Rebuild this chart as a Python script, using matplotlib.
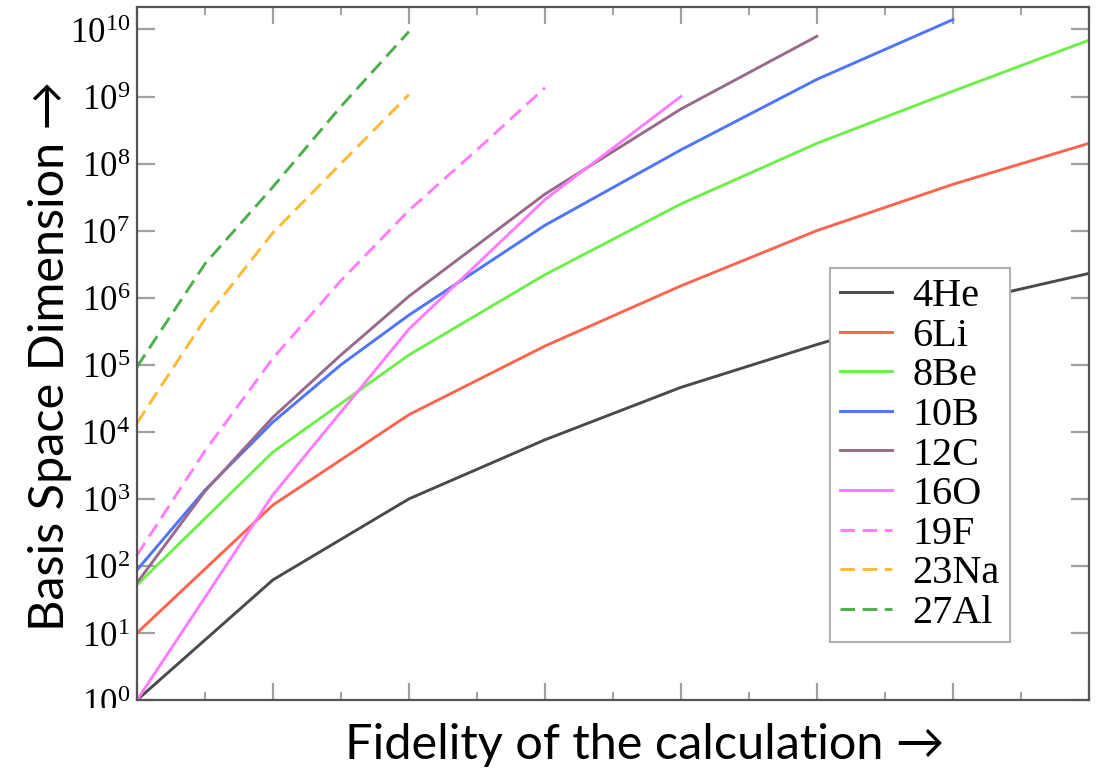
import numpy as np
import matplotlib
matplotlib.use("Agg")
import matplotlib.pyplot as plt
from matplotlib.ticker import MultipleLocator, FixedLocator, FuncFormatter, NullLocator
from matplotlib.patches import Rectangle

# nuclei and basis dimensions (x in fidelity steps)
names = ["4He", "6Li", "8Be", "10B", "12C", "16O", "19F", "23Na", "27Al"]

he4_x = [0, 1, 2, 3, 4, 5, 6, 7]
he4_y = [1, 62, 1.0e3, 7.6e3, 4.6e4, 2.0e5, 7.9e5, 2.3e6]

li6_x = [0, 1, 2, 3, 4, 5, 6, 7]
li6_y = [10, 8.1e2, 1.8e4, 1.9e5, 1.5e6, 1.0e7, 4.9e7, 2.0e8]

be8_x = [0, 1, 2, 3, 4, 5, 6, 7]
be8_y = [52, 5.0e3, 1.4e5, 2.2e6, 2.5e7, 2.0e8, 1.2e9, 6.9e9]

b10_x = [0, 0.5, 1, 1.5, 2, 3, 4, 5, 6]
b10_y = [87, 1.35e3, 1.4e4, 1.0e5, 5.5e5, 1.2e7, 1.6e8, 1.8e9, 1.4e10]

c12_x = [0, 0.5, 1, 1.5, 2, 3, 4, 5]
c12_y = [56, 1.3e3, 1.65e4, 1.4e5, 1.05e6, 3.5e7, 6.5e8, 7.9e9]

o16_x = [0, 1, 2, 3, 4]
o16_y = [1, 1.15e3, 3.4e5, 2.9e7, 1.0e9]

f19_x = [0, 0.5, 1, 1.5, 2, 2.5, 3]
f19_y = [145, 5.2e3, 1.25e5, 1.8e6, 2.0e7, 1.6e8, 1.35e9]

na23_x = [0, 0.5, 1, 1.5, 2]
na23_y = [1.35e4, 4.8e5, 9.3e6, 1.0e8, 1.07e9]

al27_x = [0, 0.5, 1, 1.5, 2]
al27_y = [9.3e4, 3.2e6, 4.5e7, 7.1e8, 9.3e9]

xs = [he4_x, li6_x, be8_x, b10_x, c12_x, o16_x, f19_x, na23_x, al27_x]
ys = [he4_y, li6_y, be8_y, b10_y, c12_y, o16_y, f19_y, na23_y, al27_y]
colors = ["#4a4a4a", "#ff6450", "#6ef04a", "#4f74ff", "#9a6a8c", "#ff7cff", "#ff7cff", "#ffb933", "#4caf4c"]
dashed = [False, False, False, False, False, False, True, True, True]

plt.rcParams["mathtext.fontset"] = "custom"
plt.rcParams["mathtext.rm"] = "Liberation Serif"
plt.rcParams["mathtext.it"] = "Liberation Serif:italic"

fig = plt.figure(figsize=(11.02, 7.71), dpi=100)
ax = fig.add_axes([0.1243, 0.092, 0.8637, 0.8985])

for i in range(len(names)):
    ls = (0, (5, 2.6)) if dashed[i] else "-"
    ax.plot(xs[i], ys[i], color=colors[i], lw=2.1, ls=ls, label=names[i])

ax.set_yscale("log")
ax.set_ylim(1, 10 ** 10.33)
ax.set_xlim(0, 7)

ax.xaxis.set_major_locator(MultipleLocator(1))
ax.xaxis.set_minor_locator(MultipleLocator(0.5))
ax.yaxis.set_major_locator(FixedLocator([10.0 ** k for k in range(11)]))
ax.yaxis.set_minor_locator(NullLocator())
ax.yaxis.set_major_formatter(FuncFormatter(lambda v, p: r"$\mathrm{10^{%d}}$" % round(np.log10(v))))
ax.set_xticklabels([])

ax.tick_params(axis="both", which="both", direction="in", top=True, right=True, color="#a0a0a0")
ax.tick_params(axis="x", which="major", length=12, width=1.6)
ax.tick_params(axis="x", which="minor", length=6, width=1.4)
ax.tick_params(axis="y", which="major", length=13, width=1.6, labelsize=25, pad=5)
for s in ax.spines.values():
    s.set_color("#555555")
    s.set_linewidth(1.6)

leg = ax.legend(loc="upper left", bbox_to_anchor=(0.728, 0.624), borderaxespad=0,
                prop={"family": "Liberation Serif", "size": 29}, handlelength=1.3,
                handletextpad=0.5, labelspacing=0.06, borderpad=0.25, fancybox=False,
                framealpha=1)
leg.get_frame().set_edgecolor("#b0b0b0")
leg.get_frame().set_linewidth(1.5)

# the bottom strip of the original is blanked out under the x label
fig.patches.append(Rectangle((0, 0), 1, 0.0817, transform=fig.transFigure,
                             facecolor="white", edgecolor="none", zorder=1))

fig.text(0.585, 0.034, "Fidelity of the calculation \u2192", ha="center", va="center",
         fontsize=35, family=["Lato", "DejaVu Sans"])
fig.text(0.045, 0.538, "Basis Space Dimension \u2192", ha="center", va="center",
         rotation=90, fontsize=35, family=["Lato", "DejaVu Sans"])

fig.savefig("out.png", dpi=100)
